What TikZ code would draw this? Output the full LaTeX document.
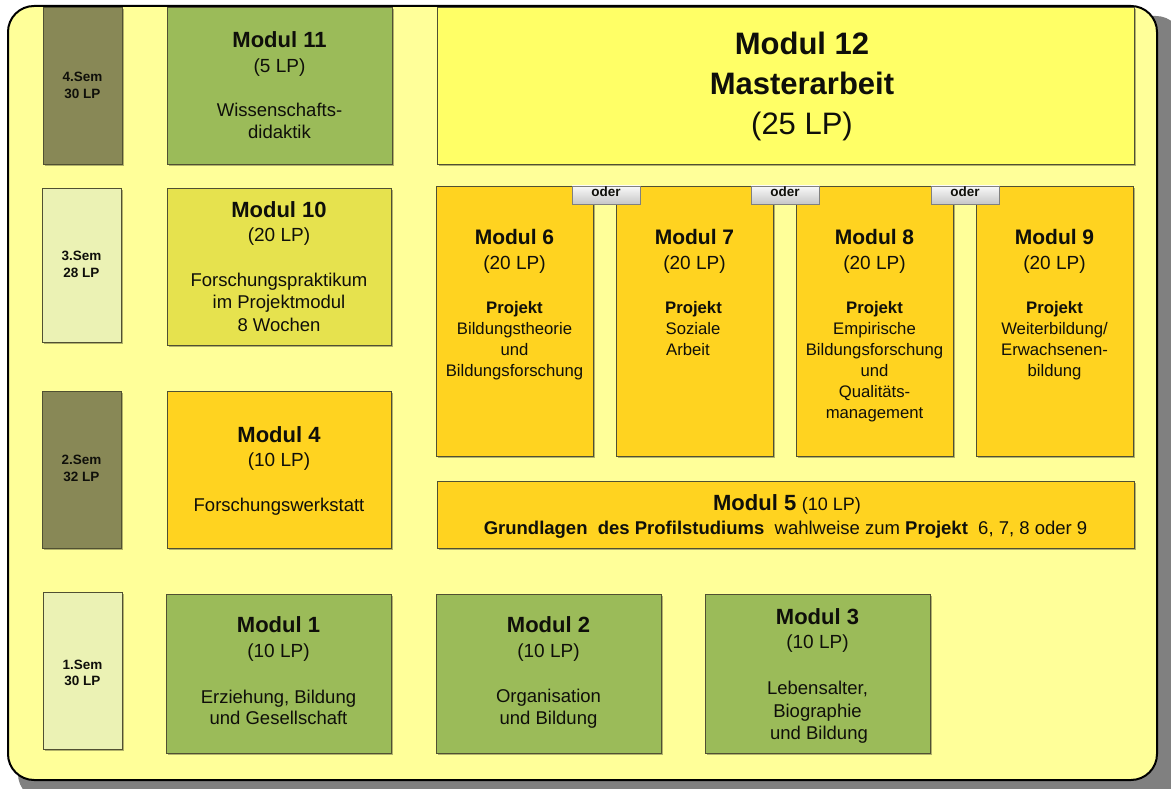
\documentclass[tikz,border=0pt]{standalone}
\usepackage{fontspec}
\setmainfont{Liberation Sans}
\usetikzlibrary{shadows}
\definecolor{bgyellow}{RGB}{255,255,153}
\definecolor{framegray}{RGB}{128,128,128}
\definecolor{olive}{RGB}{136,136,86}
\definecolor{lightsem}{RGB}{235,242,180}
\definecolor{modgreen}{RGB}{155,187,89}
\definecolor{modlime}{RGB}{230,226,78}
\definecolor{modgold}{RGB}{255,211,32}
\definecolor{modyellow}{RGB}{255,255,102}
\definecolor{boxborder}{RGB}{80,80,50}
\definecolor{txtcol}{RGB}{15,15,10}
\tikzset{
  modbox/.style={draw=boxborder, line width=0.9pt, inner sep=0pt, outer sep=0pt,
    drop shadow={shadow xshift=1.6pt, shadow yshift=-1.6pt, opacity=0.3, fill=black}},
  odergrad/.style={draw=framegray, line width=0.8pt, inner sep=0pt, outer sep=0pt,
    top color=white!95!gray, bottom color=black!22},
}
\newcommand\mybox[6]{\node[modbox,#2,minimum width={(#5-#3)*1pt},minimum height={(#6-#4)*1pt}] (#1) at ({(#3+#5)/2},{(#4+#6)/2}) {};}
\newcommand\mytxt[6]{\node[anchor=base,inner sep=0pt,text=txtcol,font=\fontsize{#4}{#4}\selectfont#5] (#1) at ({#2},{#3+0.36*#4}) {#6};}
\begin{document}
\begin{tikzpicture}[x=1pt,y=-1pt]
\useasboundingbox (0,0) rectangle (1171,789);
\clip (0,0) rectangle (1171,789);
% frame
\fill[framegray, rounded corners=26pt] (18,16) rectangle (1182,800);
\draw[line width=2pt, fill=bgyellow, rounded corners=26pt] (8,6) rectangle (1157,780);
% semester boxes
\mybox{sem4}{fill=olive}{43}{7}{122}{164}
\mybox{sem3}{fill=lightsem}{42}{188}{121}{342}
\mybox{sem2}{fill=olive}{42}{391}{121}{548}
\mybox{sem1}{fill=lightsem}{43}{592}{122}{749}
% modules
\mybox{m11}{fill=modgreen}{167}{7}{392}{164}
\mybox{m10}{fill=modlime}{167}{188}{391}{345}
\mybox{m4}{fill=modgold}{167}{391}{391}{548}
\mybox{m1}{fill=modgreen}{166}{594}{391}{753}
\mybox{m2}{fill=modgreen}{436}{594}{661}{753}
\mybox{m3}{fill=modgreen}{705}{594}{930}{753}
\mybox{m12}{fill=modyellow}{437}{7}{1134}{164}
\mybox{m6}{fill=modgold}{436}{186}{593}{456}
\mybox{m7}{fill=modgold}{616}{186}{773}{456}
\mybox{m8}{fill=modgold}{796}{186}{953}{456}
\mybox{m9}{fill=modgold}{976}{186}{1133}{456}
\mybox{m5}{fill=modgold}{437}{481}{1134}{548}
% oder boxes
\node[odergrad, minimum width=68pt, minimum height=18pt] (oder1) at (606,195) {};
\node[odergrad, minimum width=68pt, minimum height=18pt] (oder2) at (785,195) {};
\node[odergrad, minimum width=68pt, minimum height=18pt] (oder3) at (965,195) {};
\mytxt{o1}{606}{192}{13.5}{\bfseries}{oder}
\mytxt{o2}{785}{192}{13.5}{\bfseries}{oder}
\mytxt{o3}{965}{192}{13.5}{\bfseries}{oder}
% semester texts
\mytxt{s4a}{82.5}{77}{13.5}{\bfseries}{4.Sem}
\mytxt{s4b}{82.5}{94}{13.5}{\bfseries}{30 LP}
\mytxt{s3a}{81.5}{256}{13.5}{\bfseries}{3.Sem}
\mytxt{s3b}{81.5}{273}{13.5}{\bfseries}{28 LP}
\mytxt{s2a}{81.5}{460}{13.5}{\bfseries}{2.Sem}
\mytxt{s2b}{81.5}{477}{13.5}{\bfseries}{32 LP}
\mytxt{s1a}{82.5}{665}{13.5}{\bfseries}{1.Sem}
\mytxt{s1b}{82.5}{681}{13.5}{\bfseries}{30 LP}
% Modul 11
\mytxt{t11a}{279.5}{40}{22}{\bfseries}{Modul 11}
\mytxt{t11b}{279.5}{66}{19}{}{(5 LP)}
\mytxt{t11c}{279.5}{110}{18.5}{}{Wissenschafts-}
\mytxt{t11d}{279.5}{132}{18.5}{}{didaktik}
% Modul 10
\mytxt{t10a}{279}{210}{22}{\bfseries}{Modul 10}
\mytxt{t10b}{279}{235}{19}{}{(20 LP)}
\mytxt{t10c}{279}{280}{18.5}{}{Forschungspraktikum}
\mytxt{t10d}{279}{302}{18.5}{}{im Projektmodul}
\mytxt{t10e}{279}{325}{18.5}{}{8 Wochen}
% Modul 4
\mytxt{t4a}{279}{435}{22}{\bfseries}{Modul 4}
\mytxt{t4b}{279}{460}{19}{}{(10 LP)}
\mytxt{t4c}{279}{505}{18.5}{}{Forschungswerkstatt}
% Modul 1
\mytxt{t1a}{278.5}{625}{22}{\bfseries}{Modul 1}
\mytxt{t1b}{278.5}{651}{19}{}{(10 LP)}
\mytxt{t1c}{278.5}{697}{18.5}{}{Erziehung, Bildung}
\mytxt{t1d}{278.5}{718}{18.5}{}{und Gesellschaft}
% Modul 2
\mytxt{t2a}{548.5}{625}{22}{\bfseries}{Modul 2}
\mytxt{t2b}{548.5}{651}{19}{}{(10 LP)}
\mytxt{t2c}{548.5}{696}{18.5}{}{Organisation}
\mytxt{t2d}{548.5}{718}{18.5}{}{und Bildung}
% Modul 3
\mytxt{t3a}{817.5}{617}{22}{\bfseries}{Modul 3}
\mytxt{t3b}{817.5}{642}{19}{}{(10 LP)}
\mytxt{t3c}{817.5}{688}{18.5}{}{Lebensalter,}
\mytxt{t3d}{817.5}{711}{18.5}{}{Biographie}
\mytxt{t3e}{819}{733}{18.5}{}{und Bildung}
% Modul 12
\mytxt{t12a}{802}{43}{31}{\bfseries}{Modul 12}
\mytxt{t12b}{802}{83}{31}{\bfseries}{Masterarbeit}
\mytxt{t12c}{802}{123}{31}{}{(25 LP)}
% Modul 6
\mytxt{t6a}{514.5}{237}{21}{\bfseries}{Modul 6}
\mytxt{t6b}{514.5}{263}{19}{}{(20 LP)}
\mytxt{t6c}{514.5}{307}{16.7}{\bfseries}{Projekt}
\mytxt{t6d}{514.5}{328}{16.7}{}{Bildungstheorie}
\mytxt{t6e}{514.5}{349}{16.7}{}{und}
\mytxt{t6f}{514.5}{370}{16.7}{}{Bildungsforschung}
% Modul 7
\mytxt{t7a}{694.5}{237}{21}{\bfseries}{Modul 7}
\mytxt{t7b}{694.5}{263}{19}{}{(20 LP)}
\mytxt{t7c}{693.5}{307}{16.7}{\bfseries}{Projekt}
\mytxt{t7d}{693}{328}{16.7}{}{Soziale}
\mytxt{t7e}{688}{349}{16.7}{}{Arbeit}
% Modul 8
\mytxt{t8a}{874.5}{237}{21}{\bfseries}{Modul 8}
\mytxt{t8b}{874.5}{263}{19}{}{(20 LP)}
\mytxt{t8c}{874.5}{307}{16.7}{\bfseries}{Projekt}
\mytxt{t8d}{874.5}{328}{16.7}{}{Empirische}
\mytxt{t8e}{874.5}{349}{16.7}{}{Bildungsforschung}
\mytxt{t8f}{874.5}{370}{16.7}{}{und}
\mytxt{t8g}{874.5}{391}{16.7}{}{Qualitäts-}
\mytxt{t8h}{874.5}{412}{16.7}{}{management}
% Modul 9
\mytxt{t9a}{1054.5}{237}{21}{\bfseries}{Modul 9}
\mytxt{t9b}{1054.5}{263}{19}{}{(20 LP)}
\mytxt{t9c}{1054.5}{307}{16.7}{\bfseries}{Projekt}
\mytxt{t9d}{1054.5}{328}{16.7}{}{Weiterbildung/}
\mytxt{t9e}{1054.5}{349}{16.7}{}{Erwachsenen-}
\mytxt{t9f}{1054.5}{370}{16.7}{}{bildung}
% Modul 5
\mytxt{t5a}{787}{503}{20}{}{{\fontsize{22}{22}\selectfont\bfseries Modul 5} {\fontsize{18}{18}\selectfont (10 LP)}}
\mytxt{t5b}{785.5}{528}{18.5}{}{\textbf{Grundlagen\ \ des Profilstudiums}\ \ wahlweise zum \textbf{Projekt}\ \ 6, 7, 8 oder 9}
\end{tikzpicture}
\end{document}
